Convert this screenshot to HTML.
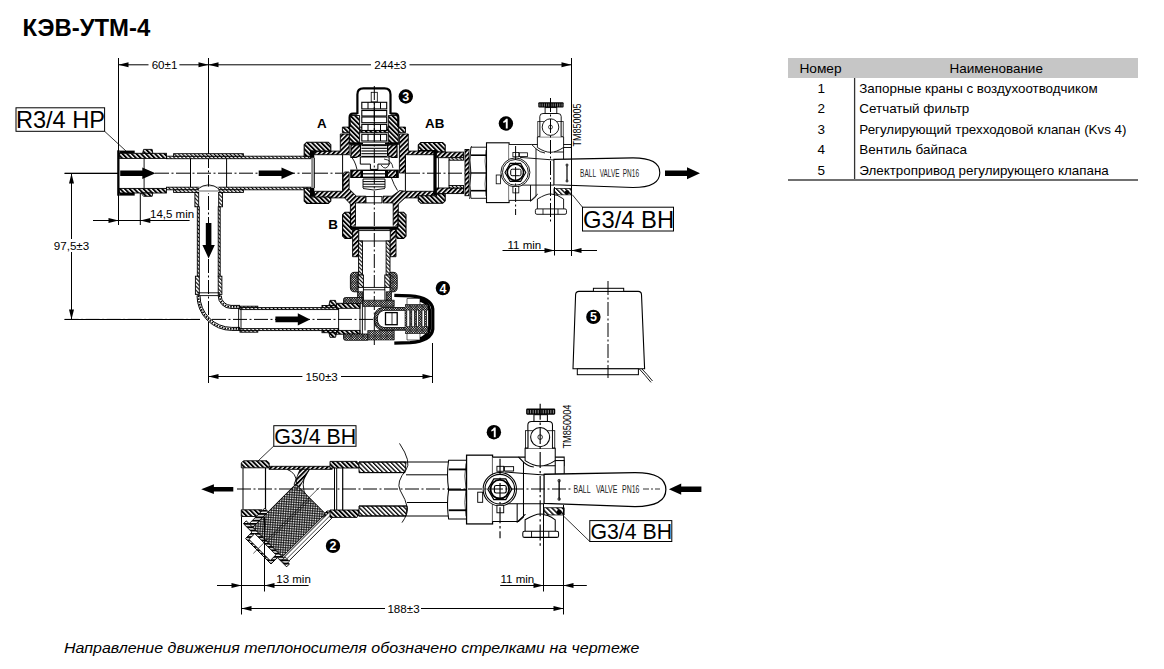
<!DOCTYPE html>
<html><head><meta charset="utf-8"><style>
html,body{margin:0;padding:0;background:#fff;width:1164px;height:669px;overflow:hidden}
svg{display:block}
</style></head><body>
<svg width="1164" height="669" viewBox="0 0 1164 669">
<defs>
<pattern id="h" patternUnits="userSpaceOnUse" width="3.3" height="3.3" patternTransform="rotate(-45)"><rect width="3.3" height="3.3" fill="#fff"/><rect x="0" y="0" width="1.9" height="3.3" fill="#000"/></pattern>
<pattern id="h2" patternUnits="userSpaceOnUse" width="3.3" height="3.3" patternTransform="rotate(45)"><rect width="3.3" height="3.3" fill="#fff"/><rect x="0" y="0" width="1.9" height="3.3" fill="#000"/></pattern>
<pattern id="hd" patternUnits="userSpaceOnUse" width="2.8" height="2.8" patternTransform="rotate(-45)"><rect width="2.8" height="2.8" fill="#fff"/><rect x="0" y="0" width="1.1" height="2.8" fill="#000"/></pattern>
<pattern id="dk" patternUnits="userSpaceOnUse" width="1.7" height="1.7" patternTransform="rotate(45)"><rect width="1.7" height="1.7" fill="#000"/><rect x="0" y="0" width="1.0" height="1.0" fill="#fff"/></pattern>
<pattern id="mesh" patternUnits="userSpaceOnUse" width="1.7" height="1.7" patternTransform="rotate(42)"><rect width="1.7" height="1.7" fill="#fff"/><rect width="0.65" height="1.7" fill="#000"/><rect width="1.7" height="0.65" fill="#000"/></pattern>
<pattern id="hl" patternUnits="userSpaceOnUse" width="3.2" height="3.2" patternTransform="rotate(-45)"><rect width="3.2" height="3.2" fill="#fff"/><rect x="0" y="0" width="1.3" height="3.2" fill="#000"/></pattern>
</defs>
<text x="22.5" y="36" font-family="Liberation Sans" font-size="24.3" text-anchor="start" font-weight="bold" font-style="normal" textLength="127.8" lengthAdjust="spacingAndGlyphs">КЭВ-УТМ-4</text>
<rect x="788" y="58" width="350" height="20" fill="#c6c6c6"/>
<text x="799.4" y="73.1" font-family="Liberation Sans" font-size="13.5" text-anchor="start" font-weight="normal" font-style="normal" textLength="42.2" lengthAdjust="spacingAndGlyphs">Номер</text>
<text x="949.5" y="73.1" font-family="Liberation Sans" font-size="13.5" text-anchor="start" font-weight="normal" font-style="normal" textLength="93.4" lengthAdjust="spacingAndGlyphs">Наименование</text>
<line x1="854.6" y1="78" x2="854.6" y2="180" stroke="#333" stroke-width="1.3" />
<line x1="788" y1="179.9" x2="1138" y2="179.9" stroke="#707070" stroke-width="2" />
<text x="821.2" y="92.9" font-family="Liberation Sans" font-size="13.5" text-anchor="middle" font-weight="normal" font-style="normal" >1</text>
<text x="859.3" y="92.9" font-family="Liberation Sans" font-size="13.5" text-anchor="start" font-weight="normal" font-style="normal" textLength="238.3" lengthAdjust="spacingAndGlyphs">Запорные краны с воздухоотводчиком</text>
<text x="821.2" y="113.35000000000001" font-family="Liberation Sans" font-size="13.5" text-anchor="middle" font-weight="normal" font-style="normal" >2</text>
<text x="859.3" y="113.35000000000001" font-family="Liberation Sans" font-size="13.5" text-anchor="start" font-weight="normal" font-style="normal" textLength="110.0" lengthAdjust="spacingAndGlyphs">Сетчатый фильтр</text>
<text x="821.2" y="133.8" font-family="Liberation Sans" font-size="13.5" text-anchor="middle" font-weight="normal" font-style="normal" >3</text>
<text x="859.3" y="133.8" font-family="Liberation Sans" font-size="13.5" text-anchor="start" font-weight="normal" font-style="normal" textLength="267.2" lengthAdjust="spacingAndGlyphs">Регулирующий трехходовой клапан (Kvs 4)</text>
<text x="821.2" y="154.25" font-family="Liberation Sans" font-size="13.5" text-anchor="middle" font-weight="normal" font-style="normal" >4</text>
<text x="859.3" y="154.25" font-family="Liberation Sans" font-size="13.5" text-anchor="start" font-weight="normal" font-style="normal" textLength="107.6" lengthAdjust="spacingAndGlyphs">Вентиль байпаса</text>
<text x="821.2" y="174.7" font-family="Liberation Sans" font-size="13.5" text-anchor="middle" font-weight="normal" font-style="normal" >5</text>
<text x="859.3" y="174.7" font-family="Liberation Sans" font-size="13.5" text-anchor="start" font-weight="normal" font-style="normal" textLength="249.5" lengthAdjust="spacingAndGlyphs">Электропривод регулирующего клапана</text>
<text x="64" y="653.4" font-family="Liberation Sans" font-size="15.5" text-anchor="start" font-weight="normal" font-style="italic" textLength="575.5" lengthAdjust="spacingAndGlyphs">Направление движения теплоносителя обозначено стрелками на чертеже</text>
<line x1="64.6" y1="173.2" x2="118" y2="173.2" stroke="#000" stroke-width="1" />
<line x1="155" y1="173.2" x2="311" y2="173.2" stroke="#000" stroke-width="1" stroke-dasharray="14 2.5 2 2.5"/>
<line x1="314" y1="173.2" x2="342" y2="173.2" stroke="#000" stroke-width="1" stroke-dasharray="14 2.5 2 2.5"/>
<line x1="406" y1="173.2" x2="470" y2="173.2" stroke="#000" stroke-width="1" stroke-dasharray="14 2.5 2 2.5"/>
<line x1="208.5" y1="154" x2="208.5" y2="331" stroke="#000" stroke-width="1" stroke-dasharray="14 2.5 2 2.5"/>
<rect x="117.20" y="150.30" width="2.30" height="45.40" fill="#000"/>
<rect x="119.40" y="150.60" width="15.30" height="2.80" fill="#000"/>
<rect x="119.40" y="192.80" width="15.30" height="2.80" fill="#000"/>
<rect x="119.40" y="153.30" width="47.00" height="5.10" fill="url(#h)" stroke="#000" stroke-width="0.9" />
<rect x="119.40" y="188.40" width="47.00" height="4.60" fill="url(#h)" stroke="#000" stroke-width="0.9" />
<polygon points="142.60,153.30 143.60,149.40 152.20,149.40 152.80,153.30" fill="url(#h)" stroke="#000" stroke-width="0.9" />
<polygon points="141.00,193.00 143.60,196.30 152.20,196.30 152.80,193.00" fill="url(#h)" stroke="#000" stroke-width="0.9" />
<line x1="144.1" y1="158.4" x2="144.1" y2="188.4" stroke="#000" stroke-width="0.9" />
<rect x="166.50" y="156.20" width="144.80" height="2.50" fill="url(#hd)" stroke="#000" stroke-width="0.9" />
<rect x="166.50" y="187.20" width="144.80" height="2.60" fill="url(#hd)" stroke="#000" stroke-width="0.9" />
<rect x="173.60" y="153.70" width="69.80" height="2.50" fill="url(#hd)" stroke="#000" stroke-width="0.9" />
<rect x="173.60" y="189.80" width="69.80" height="2.60" fill="url(#hd)" stroke="#000" stroke-width="0.9" />
<line x1="190.5" y1="158.7" x2="190.5" y2="187.2" stroke="#000" stroke-width="1" />
<line x1="226.6" y1="158.7" x2="226.6" y2="187.2" stroke="#000" stroke-width="1" />
<rect x="198.8" y="186.6" width="19.6" height="6.4" fill="#fff"/>
<path d="M197.4,189.2 Q208.6,180.5 219.4,189.2" fill="none" stroke="#000" stroke-width="0.9" />
<line x1="198.7" y1="191" x2="218.5" y2="191" stroke="#666" stroke-width="1" />
<rect x="194.90" y="192.40" width="3.80" height="14.40" fill="url(#hd)" stroke="#000" stroke-width="0.9" />
<rect x="218.70" y="192.40" width="3.80" height="14.40" fill="url(#hd)" stroke="#000" stroke-width="0.9" />
<rect x="197.30" y="206.80" width="2.00" height="69.40" fill="url(#hd)" stroke="#000" stroke-width="0.9" />
<rect x="218.20" y="206.80" width="2.00" height="69.40" fill="url(#hd)" stroke="#000" stroke-width="0.9" />
<rect x="195.40" y="276.20" width="3.90" height="18.20" fill="url(#hd)" stroke="#000" stroke-width="0.9" />
<rect x="218.20" y="276.20" width="3.70" height="18.20" fill="url(#hd)" stroke="#000" stroke-width="0.9" />
<line x1="197.3" y1="292.8" x2="220.3" y2="292.8" stroke="#000" stroke-width="0.9" />
<line x1="197.3" y1="295.6" x2="220.3" y2="295.6" stroke="#000" stroke-width="0.9" />
<path d="M198.5,295.6 A33.3,33.3 0 0 0 231.8,328.9 L240,328.9" fill="none" stroke="#000" stroke-width="1.6" stroke="#fff" stroke-dasharray="1.6 1.2"/>
<path d="M197,295.6 A34.8,34.8 0 0 0 231.8,330.4 L240,330.4" fill="none" stroke="#000" stroke-width="1" />
<path d="M200,295.6 A31.8,31.8 0 0 0 231.8,327.4 L240,327.4" fill="none" stroke="#000" stroke-width="1" />
<path d="M219.7,295.6 A11.3,11.3 0 0 0 231,306.9 L240,306.9" fill="none" stroke="#000" stroke-width="1.6" stroke="#fff" stroke-dasharray="1.6 1.2"/>
<path d="M218.2,295.6 A12.8,12.8 0 0 0 231,308.4 L240,308.4" fill="none" stroke="#000" stroke-width="1" />
<path d="M221.2,295.6 A9.8,9.8 0 0 0 231,305.4 L240,305.4" fill="none" stroke="#000" stroke-width="1" />
<rect x="240.00" y="306.20" width="17.80" height="1.60" fill="url(#hd)" stroke="#000" stroke-width="0.9" />
<rect x="240.00" y="330.50" width="17.80" height="1.70" fill="url(#hd)" stroke="#000" stroke-width="0.9" />
<rect x="240.00" y="307.60" width="98.60" height="2.00" fill="url(#hd)" stroke="#000" stroke-width="0.9" />
<rect x="240.00" y="328.60" width="98.60" height="2.00" fill="url(#hd)" stroke="#000" stroke-width="0.9" />
<line x1="238.6" y1="308" x2="238.6" y2="330" stroke="#000" stroke-width="0.9" />
<line x1="241" y1="308" x2="241" y2="330" stroke="#000" stroke-width="0.9" />
<line x1="64.6" y1="319.4" x2="200" y2="319.4" stroke="#000" stroke-width="1" stroke-dasharray="14 2.5 2 2.5"/>
<line x1="212" y1="319.4" x2="373" y2="319.4" stroke="#000" stroke-width="1" stroke-dasharray="14 2.5 2 2.5"/>
<polygon points="205.80,223.00 205.80,245.00 202.40,245.00 208.60,258.40 214.80,245.00 211.40,245.00 211.40,223.00" fill="#000"/>
<polygon points="120.20,170.50 142.30,170.50 142.30,167.40 155.50,173.20 142.30,179.00 142.30,175.90 120.20,175.90" fill="#000"/>
<polygon points="258.70,170.50 281.50,170.50 281.50,167.40 294.50,173.20 281.50,179.00 281.50,175.90 258.70,175.90" fill="#000"/>
<polygon points="275.40,316.60 297.80,316.60 297.80,313.30 310.10,319.40 297.80,325.50 297.80,322.20 275.40,322.20" fill="#000"/>
<polygon points="665.00,170.50 687.00,170.50 687.00,167.20 700.00,173.20 687.00,179.20 687.00,175.90 665.00,175.90" fill="#000"/>
<rect x="322.00" y="305.50" width="14.60" height="2.20" fill="url(#h)" stroke="#000" stroke-width="0.9" />
<rect x="322.00" y="330.50" width="14.60" height="2.20" fill="url(#h)" stroke="#000" stroke-width="0.9" />
<polygon points="328.90,305.50 330.00,300.40 335.50,300.40 336.60,305.50" fill="url(#h)" stroke="#000" stroke-width="0.9" />
<polygon points="328.90,332.70 330.00,337.30 335.50,337.30 336.60,332.70" fill="url(#h)" stroke="#000" stroke-width="0.9" />
<rect x="336.60" y="303.30" width="23.40" height="5.00" fill="url(#h)" stroke="#000" stroke-width="0.9" />
<rect x="336.60" y="330.40" width="23.40" height="3.80" fill="url(#h)" stroke="#000" stroke-width="0.9" />
<line x1="338.6" y1="308.3" x2="338.6" y2="330.4" stroke="#000" stroke-width="0.9" />
<line x1="360" y1="303" x2="360" y2="334" stroke="#000" stroke-width="0.9" />
<line x1="362.4" y1="303" x2="362.4" y2="334" stroke="#000" stroke-width="0.9" />
<polygon points="314.50,151.10 340.30,151.10 340.30,134.00 349.20,134.00 349.20,154.70 314.50,154.70" fill="url(#h2)" stroke="#000" stroke-width="0.9" />
<polygon points="434.00,151.10 408.30,151.10 408.30,134.00 399.40,134.00 399.40,173.00 405.40,173.00 405.40,154.70 434.00,154.70" fill="url(#h2)" stroke="#000" stroke-width="0.9" />
<polygon points="314.50,191.30 343.00,191.30 343.00,174.00 344.50,172.00 349.10,172.00 349.10,188.90 356.40,196.20 365.90,196.20 365.90,202.90 355.50,202.90 355.50,227.00 350.40,227.00 350.40,204.00 344.60,197.90 314.50,197.90" fill="url(#h2)" stroke="#000" stroke-width="0.9" />
<polygon points="434.00,191.30 405.40,191.30 405.40,191.30 399.60,190.60 392.00,196.20 383.00,196.20 383.00,202.90 393.20,202.90 393.20,227.00 398.30,227.00 398.30,204.00 405.00,197.90 434.00,197.90" fill="url(#h2)" stroke="#000" stroke-width="0.9" />
<line x1="342.6" y1="154.7" x2="342.6" y2="191.3" stroke="#000" stroke-width="1" />
<line x1="405.4" y1="154.7" x2="405.4" y2="191.3" stroke="#000" stroke-width="1" />
<path d="M349.5,154.7 Q355,160 357,169.5" fill="none" stroke="#000" stroke-width="0.9" />
<path d="M391.5,178 Q394,185 397.5,190.5" fill="none" stroke="#000" stroke-width="0.9" />
<polygon points="306.70,142.20 328.30,142.20 330.80,144.70 330.80,151.10 310.50,151.10 310.50,156.30 304.20,156.30 304.20,144.70" fill="url(#h)" stroke="#000" stroke-width="1.1" />
<polygon points="304.20,188.30 310.50,188.30 310.50,197.00 330.80,197.00 330.80,200.90 328.30,203.40 306.70,203.40 304.20,200.90" fill="url(#h)" stroke="#000" stroke-width="1.1" />
<rect x="310.00" y="150.60" width="4.30" height="7.30" fill="#000"/>
<rect x="310.00" y="187.80" width="4.30" height="9.00" fill="#000"/>
<rect x="311.2" y="157.8" width="2.4" height="30.2" fill="#888"/>
<line x1="314.4" y1="157.8" x2="314.4" y2="188" stroke="#000" stroke-width="0.9" />
<polygon points="420.80,142.50 442.70,142.50 445.20,145.00 445.20,152.10 436.60,152.10 436.60,150.50 418.30,150.50 418.30,145.00" fill="url(#h)" stroke="#000" stroke-width="1.1" />
<polygon points="418.30,195.70 436.60,195.70 436.60,193.60 445.20,193.60 445.20,200.80 442.70,203.30 420.80,203.30 418.30,200.80" fill="url(#h)" stroke="#000" stroke-width="1.1" />
<rect x="433.40" y="150.30" width="3.20" height="45.00" fill="#000"/>
<line x1="438.5" y1="157" x2="438.5" y2="188" stroke="#000" stroke-width="0.8" />
<rect x="436.60" y="152.10" width="26.90" height="5.60" fill="url(#h2)" stroke="#000" stroke-width="0.9" />
<rect x="436.60" y="188.00" width="26.90" height="5.60" fill="url(#h2)" stroke="#000" stroke-width="0.9" />
<rect x="449.00" y="157.70" width="14.50" height="2.50" fill="url(#hd)" stroke="#000" stroke-width="0.9" />
<rect x="449.00" y="185.50" width="14.50" height="2.50" fill="url(#hd)" stroke="#000" stroke-width="0.9" />
<line x1="449" y1="160.2" x2="449" y2="185.5" stroke="#000" stroke-width="1" />
<rect x="465.00" y="149.50" width="4.00" height="46.20" fill="url(#h2)" stroke="#000" stroke-width="0.9" />
<path d="M471.5,146 Q469,160 470.5,173 Q472,186 469.5,199" fill="none" stroke="#000" stroke-width="0.7" />
<polygon points="345.00,212.30 350.50,212.30 350.50,226.40 352.60,226.40 352.60,236.00 351.00,238.40 345.00,238.40 342.60,236.00 342.60,214.70" fill="url(#h)" stroke="#000" stroke-width="1.1" />
<polygon points="403.60,212.30 398.10,212.30 398.10,226.40 396.00,226.40 396.00,236.00 397.60,238.40 403.60,238.40 406.00,236.00 406.00,214.70" fill="url(#h)" stroke="#000" stroke-width="1.1" />
<rect x="350.50" y="226.40" width="47.60" height="3.10" fill="#000"/>
<line x1="352" y1="226" x2="397" y2="226" stroke="#fff" stroke-width="0.6" />
<rect x="366.00" y="196.60" width="15.90" height="6.30" fill="#fff" stroke="#000" stroke-width="0.9" />
<polygon points="352.60,229.50 358.80,229.50 358.80,256.70 352.60,256.70" fill="url(#h2)" stroke="#000" stroke-width="0.9" />
<polygon points="396.00,229.50 389.80,229.50 389.80,256.70 396.00,256.70" fill="url(#h2)" stroke="#000" stroke-width="0.9" />
<rect x="358.80" y="230.60" width="31.40" height="10.40" fill="#fff" stroke="#000" stroke-width="0.9" />
<rect x="358.60" y="241.00" width="3.90" height="34.00" fill="url(#hd)" stroke="#000" stroke-width="0.9" />
<rect x="386.10" y="241.00" width="3.90" height="34.00" fill="url(#hd)" stroke="#000" stroke-width="0.9" />
<polygon points="342.40,127.10 405.50,127.10 405.50,132.70 342.40,132.70" fill="url(#h)" stroke="#000" stroke-width="0.9" />
<polygon points="349.60,115.50 359.60,115.50 359.60,143.50 349.60,143.50" fill="url(#h)" stroke="#000" stroke-width="0.9" />
<polygon points="388.30,115.50 398.30,115.50 398.30,143.50 388.30,143.50" fill="url(#h)" stroke="#000" stroke-width="0.9" />
<path d="M357.4,114 L357.4,94.4 Q357.4,88.4 363.4,88.4 L384.5,88.4 Q390.5,88.4 390.5,94.4 L390.5,114" fill="none" stroke="#000" stroke-width="2.2" />
<path d="M349.6,127.1 L349.6,117.3 Q349.6,113.6 353,113.6 L357.4,113.6" fill="none" stroke="#000" stroke-width="2.2" />
<path d="M390.5,113.6 L395,113.6 Q398.3,113.6 398.3,117.3 L398.3,127.1" fill="none" stroke="#000" stroke-width="2.2" />
<rect x="371.20" y="92.30" width="6.10" height="9.60" fill="#fff" stroke="#000" stroke-width="0.8" />
<rect x="361.80" y="102.30" width="24.90" height="6.60" fill="#fff" stroke="#000" stroke-width="1.1" />
<line x1="368" y1="102.3" x2="368" y2="108.89999999999999" stroke="#000" stroke-width="1" />
<line x1="374.3" y1="102.3" x2="374.3" y2="108.89999999999999" stroke="#000" stroke-width="1" />
<line x1="380.5" y1="102.3" x2="380.5" y2="108.89999999999999" stroke="#000" stroke-width="1" />
<rect x="361.80" y="110.50" width="24.90" height="5.50" fill="#fff" stroke="#000" stroke-width="1.1" />
<rect x="361.80" y="117.00" width="24.90" height="5.70" fill="#fff" stroke="#000" stroke-width="1.1" />
<rect x="361.80" y="124.40" width="24.90" height="6.10" fill="#fff" stroke="#000" stroke-width="1.1" />
<line x1="368" y1="124.4" x2="368" y2="130.5" stroke="#000" stroke-width="1" />
<line x1="374.3" y1="124.4" x2="374.3" y2="130.5" stroke="#000" stroke-width="1" />
<line x1="380.5" y1="124.4" x2="380.5" y2="130.5" stroke="#000" stroke-width="1" />
<rect x="361.80" y="134.30" width="24.90" height="6.70" fill="#fff" stroke="#000" stroke-width="1.1" />
<line x1="368" y1="134.3" x2="368" y2="141.0" stroke="#000" stroke-width="1" />
<line x1="374.3" y1="134.3" x2="374.3" y2="141.0" stroke="#000" stroke-width="1" />
<line x1="380.5" y1="134.3" x2="380.5" y2="141.0" stroke="#000" stroke-width="1" />
<line x1="374.3" y1="108.9" x2="374.3" y2="124.4" stroke="#000" stroke-width="1" />
<rect x="349.50" y="142.30" width="49.30" height="2.60" fill="#000"/>
<rect x="363.00" y="142.80" width="22.00" height="1.30" fill="#fff" stroke="#000" stroke-width="0" />
<polygon points="351.00,145.00 360.50,145.00 360.50,155.50 356.00,157.40 351.00,157.40" fill="url(#h2)" stroke="#000" stroke-width="1.2" />
<polygon points="387.60,145.00 397.00,145.00 397.00,157.40 392.00,157.40 387.60,155.50" fill="url(#h2)" stroke="#000" stroke-width="1.2" />
<rect x="361.40" y="145.50" width="25.50" height="11.50" fill="#fff" stroke="#000" stroke-width="0" />
<line x1="361.4" y1="145.6" x2="386.9" y2="145.6" stroke="#000" stroke-width="1.1" />
<line x1="361.4" y1="148.3" x2="386.9" y2="148.3" stroke="#000" stroke-width="1.1" />
<line x1="361.4" y1="151" x2="386.9" y2="151" stroke="#000" stroke-width="1.1" />
<line x1="361.4" y1="153.7" x2="386.9" y2="153.7" stroke="#000" stroke-width="1.1" />
<line x1="361.4" y1="156.4" x2="386.9" y2="156.4" stroke="#000" stroke-width="1.1" />
<path d="M360.3,157 L389.1,157 L389.1,164.1 L377.9,164.1 L377.9,169.4 L370.4,169.4 L370.4,164.1 L360.3,164.1 Z" fill="#fff" stroke="#000" stroke-width="1" />
<path d="M381,165 Q386,172 390,163 M384,159 Q392,160 393,168" fill="none" stroke="#000" stroke-width="0.8" />
<rect x="350.20" y="169.60" width="48.60" height="8.40" fill="#000"/>
<polygon points="352.50,170.80 360.50,170.80 360.50,176.80 352.50,176.80" fill="url(#h2)" stroke="#000" stroke-width="0" />
<polygon points="388.00,170.80 396.00,170.80 396.00,176.80 388.00,176.80" fill="url(#h2)" stroke="#000" stroke-width="0" />
<rect x="363.00" y="171.00" width="22.00" height="2.20" fill="#fff" stroke="#000" stroke-width="0" />
<rect x="363.00" y="174.40" width="22.00" height="2.20" fill="#fff" stroke="#000" stroke-width="0" />
<rect x="363.00" y="179.00" width="22.00" height="10.00" fill="#fff" stroke="#000" stroke-width="0" />
<line x1="363" y1="179" x2="385" y2="179" stroke="#000" stroke-width="1" />
<line x1="363" y1="181.6" x2="385" y2="181.6" stroke="#000" stroke-width="1" />
<line x1="363" y1="184.2" x2="385" y2="184.2" stroke="#000" stroke-width="1" />
<line x1="363" y1="186.8" x2="385" y2="186.8" stroke="#000" stroke-width="1" />
<line x1="363" y1="179" x2="363" y2="188" stroke="#000" stroke-width="0.9" />
<line x1="385" y1="179" x2="385" y2="188" stroke="#000" stroke-width="0.9" />
<path d="M363,188.5 Q374,191.5 385,188.5" fill="none" stroke="#000" stroke-width="0.9" />
<line x1="374.3" y1="86" x2="374.3" y2="345" stroke="#000" stroke-width="1" stroke-dasharray="14 2.5 2 2.5"/>
<g>
<path d="M470.9,147.2 L487.1,147.2 L487.1,198.3 L470.9,198.3 Q469,185 470.9,173 Q469,160 470.9,147.2 Z" fill="#fff" stroke="#000" stroke-width="0.9" />
<line x1="471" y1="155.2" x2="487" y2="155.2" stroke="#000" stroke-width="1.6" />
<line x1="471" y1="173" x2="487" y2="173" stroke="#000" stroke-width="1.4" />
<line x1="471" y1="190.7" x2="487" y2="190.7" stroke="#000" stroke-width="1.6" />
<path d="M486,150 Q484,161 486,172 Q484,184 486,196" fill="none" stroke="#000" stroke-width="0.6" />
<rect x="486.50" y="142.80" width="22.60" height="59.80" fill="#fff" stroke="#000" stroke-width="1.1" />
<path d="M509.1,144.5 L531.7,144.5 L536,148.8 L536,196.5 L531.7,200.4 L509.1,200.4" fill="#fff" stroke="#000" stroke-width="0.9" />
<path d="M531.7,144.5 L571.4,144.5 L571.4,152 L554,152 M520,157.4 L554,160 M520,185.1 L554,185.1" fill="none" stroke="#000" stroke-width="0.9" />
<path d="M536,148.8 Q540,152.5 545,153" fill="none" stroke="#000" stroke-width="0.9" />
<path d="M531,200.4 L537.4,194.5 L537.4,193.9" fill="none" stroke="#000" stroke-width="0.9" />
<path d="M537.4,136.8 L563.6,136.8 L563.6,147.5 Q556,152.3 550.5,152.3 Q545,152.3 537.4,147.5 Z" fill="#fff" stroke="#000" stroke-width="0.9" />
<path d="M539.8,136.8 L539.8,116.5 Q539.8,113.5 543,113.5 L558,113.5 Q561.2,113.5 561.2,116.5 L561.2,136.8" fill="#fff" stroke="#000" stroke-width="0.9" />
<rect x="537.80" y="121.50" width="2.00" height="15.00" fill="#fff" stroke="#000" stroke-width="0.7" />
<rect x="561.20" y="121.50" width="2.00" height="15.00" fill="#fff" stroke="#000" stroke-width="0.7" />
<line x1="539.8" y1="121.5" x2="561.2" y2="121.5" stroke="#000" stroke-width="0.7" />
<circle cx="550.5" cy="127.1" r="8.3" fill="#fff" stroke="#000" stroke-width="0.9"/>
<circle cx="550.5" cy="127.1" r="2" fill="none" stroke="#000" stroke-width="0.7"/>
<rect x="545.10" y="107.60" width="11.70" height="5.90" fill="#fff" stroke="#000" stroke-width="0.9" />
<rect x="538.3" y="102.3" width="25.3" height="5.3" rx="1" fill="#000"/>
<line x1="540.0" y1="103.5" x2="540.0" y2="106.5" stroke="#fff" stroke-width="0.5"/>
<line x1="542.2" y1="103.5" x2="542.2" y2="106.5" stroke="#fff" stroke-width="0.5"/>
<line x1="544.4" y1="103.5" x2="544.4" y2="106.5" stroke="#fff" stroke-width="0.5"/>
<line x1="546.6" y1="103.5" x2="546.6" y2="106.5" stroke="#fff" stroke-width="0.5"/>
<line x1="548.8" y1="103.5" x2="548.8" y2="106.5" stroke="#fff" stroke-width="0.5"/>
<line x1="551.0" y1="103.5" x2="551.0" y2="106.5" stroke="#fff" stroke-width="0.5"/>
<line x1="553.2" y1="103.5" x2="553.2" y2="106.5" stroke="#fff" stroke-width="0.5"/>
<line x1="555.4" y1="103.5" x2="555.4" y2="106.5" stroke="#fff" stroke-width="0.5"/>
<line x1="557.6" y1="103.5" x2="557.6" y2="106.5" stroke="#fff" stroke-width="0.5"/>
<line x1="559.8" y1="103.5" x2="559.8" y2="106.5" stroke="#fff" stroke-width="0.5"/>
<line x1="562.0" y1="103.5" x2="562.0" y2="106.5" stroke="#fff" stroke-width="0.5"/>
<rect x="563.60" y="147.50" width="7.80" height="12.00" fill="#fff" stroke="#000" stroke-width="0.9" />
<path d="M537.4,208.9 L537.4,199 Q546,193.9 550.5,193.9 Q557,193.9 563.6,199 L563.6,208.9" fill="#fff" stroke="#000" stroke-width="0.9" />
<rect x="535.4" y="208.9" width="31.1" height="5.4" rx="1.5" fill="#fff" stroke="#000" stroke-width="0.9"/>
<line x1="543" y1="209" x2="543" y2="214.3" stroke="#000" stroke-width="0.8" />
<line x1="558" y1="209" x2="558" y2="214.3" stroke="#000" stroke-width="0.8" />
<polygon points="553.90,188.50 571.40,188.50 571.40,194.80 553.90,194.80" fill="url(#hl)" stroke="#000" stroke-width="0.7" />
<circle cx="567" cy="192.5" r="2.2" fill="#000"/>
<line x1="530.5" y1="185.1" x2="530.5" y2="201.6" stroke="#000" stroke-width="0.9" />
<circle cx="515.4" cy="172.4" r="14.5" fill="#fff" stroke="#000" stroke-width="0.9"/>
<circle cx="515.4" cy="172.4" r="12.9" fill="none" stroke="#000" stroke-width="0.9"/>
<polygon points="525.80,172.40 520.60,181.41 510.20,181.41 505.00,172.40 510.20,163.39 520.60,163.39" fill="#fff" stroke="#000" stroke-width="1.1" />
<circle cx="515.4" cy="172.4" r="8.1" fill="none" stroke="#000" stroke-width="1.6"/>
<rect x="510.7" y="169.2" width="10.3" height="6.5" rx="1.5" fill="#fff" stroke="#000" stroke-width="1"/>
<rect x="512.90" y="152.50" width="5.90" height="4.30" fill="#fff" stroke="#000" stroke-width="0.8" />
<rect x="512.90" y="186.40" width="5.90" height="6.50" fill="#fff" stroke="#000" stroke-width="0.8" />
<rect x="496.20" y="175.00" width="4.30" height="8.80" fill="#fff" stroke="#000" stroke-width="0.8" />
<rect x="519.40" y="152.80" width="8.00" height="3.80" fill="#fff" stroke="#000" stroke-width="0.8" />
<path d="M553.9,159.4 L633,157.9 Q659.8,157.9 659.8,172.7 Q659.8,187.5 633,187.5 L553.9,184.8 Z" fill="#fff" stroke="#000" stroke-width="1.1" />
<line x1="567" y1="164" x2="567" y2="182" stroke="#000" stroke-width="1.2"/>
<circle cx="567" cy="165" r="1.2" fill="none" stroke="#000" stroke-width="0.5"/><circle cx="567" cy="181" r="1.2" fill="none" stroke="#000" stroke-width="0.5"/>
<line x1="515.6" y1="146" x2="515.6" y2="215" stroke="#000" stroke-width="1" stroke-dasharray="14 2.5 2 2.5"/>
<line x1="550.5" y1="98" x2="550.5" y2="222" stroke="#000" stroke-width="1" stroke-dasharray="14 2.5 2 2.5"/>
</g>
<text x="580.1" y="176.7" font-family="Liberation Sans" font-size="10.4" text-anchor="start" font-weight="normal" font-style="normal" fill="#222" textLength="15.9" lengthAdjust="spacingAndGlyphs">BALL</text>
<text x="599.6999999999999" y="176.7" font-family="Liberation Sans" font-size="10.4" text-anchor="start" font-weight="normal" font-style="normal" fill="#222" textLength="19.8" lengthAdjust="spacingAndGlyphs">VALVE</text>
<text x="622.8" y="176.7" font-family="Liberation Sans" font-size="10.4" text-anchor="start" font-weight="normal" font-style="normal" fill="#222" textLength="16.2" lengthAdjust="spacingAndGlyphs">PN16</text>
<path d="M350.4,276.5 Q350.4,272.3 354.5,272.3 L358.2,272.3 L358.2,291.8 L354.5,291.8 Q350.4,291.8 350.4,287.5 Z" fill="url(#dk)" stroke="#000" stroke-width="0.9" />
<path d="M397.2,276.5 Q397.2,272.3 393.1,272.3 L390,272.3 L390,291.8 L393.1,291.8 Q397.2,291.8 397.2,287.5 Z" fill="url(#dk)" stroke="#000" stroke-width="0.9" />
<rect x="358.20" y="275.00" width="5.20" height="12.40" fill="url(#hd)" stroke="#000" stroke-width="0.9" />
<rect x="384.80" y="275.00" width="5.20" height="12.40" fill="url(#hd)" stroke="#000" stroke-width="0.9" />
<rect x="363.40" y="287.40" width="21.40" height="2.40" fill="#fff" stroke="#000" stroke-width="0.9" />
<path d="M357.6,291.8 L362.8,291.8 L362.8,301 L357.6,301 Z" fill="url(#dk)" stroke="#000" stroke-width="0.8" />
<path d="M386.2,291.8 L391.4,291.8 L391.4,301 L386.2,301 Z" fill="url(#dk)" stroke="#000" stroke-width="0.8" />
<line x1="363.4" y1="289.8" x2="363.4" y2="301" stroke="#000" stroke-width="0.9" />
<line x1="384.9" y1="289.8" x2="384.9" y2="301" stroke="#000" stroke-width="0.9" />
<path d="M345.5,297.5 L362.9,297.5 L362.9,303.3 L343.5,303.3 L343.5,299.5 Q343.5,297.5 345.5,297.5 Z" fill="url(#dk)" stroke="#000" stroke-width="0.8" />
<path d="M343.5,334 L367.7,334 L367.7,340.3 L345.5,340.3 Q343.5,340.3 343.5,338.3 Z" fill="url(#dk)" stroke="#000" stroke-width="0.8" />
<path d="M362.9,300.2 L394.3,300.2 L394.3,306.5 L362.9,306.5 Z" fill="url(#dk)" stroke="#000" stroke-width="0.6" />
<path d="M367.7,330.5 L394.3,330.5 L394.3,340 L367.7,340 Z" fill="url(#dk)" stroke="#000" stroke-width="0.6" />
<line x1="365" y1="306.5" x2="365" y2="330.5" stroke="#000" stroke-width="0.9" />
<path d="M405.2,307.6 L382,307.6 Q374.2,309 374.2,318.9 Q374.2,329 382,330.2 L405.2,330.2" fill="url(#dk)" stroke="#000" stroke-width="0.9" />
<path d="M405.2,310.3 L384,310.3 Q377.3,312 377.3,318.9 Q377.3,326 384,327.6 L405.2,327.6 Z" fill="#fff" stroke="#000" stroke-width="0.9" />
<rect x="385.50" y="312.60" width="11.70" height="12.10" fill="#fff" stroke="#000" stroke-width="1.3" />
<line x1="392" y1="312.6" x2="392" y2="324.7" stroke="#000" stroke-width="0.8" />
<path d="M418,299.5 Q428.5,301.5 429.3,310 L429.3,328.5 Q428.5,337.5 418,339.5" fill="none" stroke="#000" stroke-width="3.6" stroke="url(#dk)"/>
<path d="M394.3,295.4 L410.2,295.9 Q431.3,297.5 432.8,309 L432.8,329.3 Q431.3,341 410.2,342.7 L394.3,343.1" fill="none" stroke="#000" stroke-width="3.2" />
<path d="M405,304.5 L428,304.5 L428,333.5 L405,333.5" fill="url(#dk)" stroke="#000" stroke-width="0.6" />
<rect x="406.80" y="310.00" width="3.00" height="16.80" fill="#fff" stroke="#000" stroke-width="0.7" />
<rect x="411.80" y="310.00" width="2.50" height="16.80" fill="#fff" stroke="#000" stroke-width="0.7" />
<rect x="416.50" y="310.00" width="2.20" height="16.80" fill="#fff" stroke="#000" stroke-width="0.7" />
<rect x="422.00" y="310.00" width="2.50" height="16.80" fill="#fff" stroke="#000" stroke-width="0.7" />
<rect x="426.50" y="310.00" width="1.80" height="16.80" fill="#fff" stroke="#000" stroke-width="0.7" />
<path d="M407,298.5 L420,298.5 L420,304.5 L407,304.5 Z" fill="#fff" stroke="#000" stroke-width="0.6" />
<path d="M407,333.5 L420,333.5 L420,340 L407,340 Z" fill="#fff" stroke="#000" stroke-width="0.6" />
<path d="M573,368.8 L575.6,294.6 Q575.9,291.4 579,291.4 L638.2,291.4 Q641.3,291.4 641.5,294.6 L644.6,368.8 Z" fill="#fff" stroke="#000" stroke-width="1.1" />
<rect x="593.40" y="288.30" width="30.30" height="3.10" fill="#fff" stroke="#000" stroke-width="1" />
<rect x="577.30" y="368.80" width="61.10" height="5.90" fill="#fff" stroke="#000" stroke-width="1" />
<path d="M639.4,369 Q645,375 651,382.4 M641.8,368.8 Q647,374 652.5,381" fill="none" stroke="#000" stroke-width="0.9" />
<line x1="608" y1="281" x2="608" y2="378" stroke="#000" stroke-width="1" stroke-dasharray="14 2.5 2 2.5"/>
<polygon points="243.50,460.80 267.00,460.80 269.20,463.00 269.20,467.80 241.30,467.80 241.30,463.00" fill="url(#h)" stroke="#000" stroke-width="0.9" />
<rect x="269.20" y="466.30" width="62.80" height="3.00" fill="url(#h2)" stroke="#000" stroke-width="0.9" />
<line x1="243" y1="467.8" x2="243" y2="509.6" stroke="#000" stroke-width="1" />
<line x1="265.5" y1="467.8" x2="265.5" y2="509.6" stroke="#000" stroke-width="1.2" />
<polygon points="241.30,509.80 262.00,509.80 258.00,516.50 241.30,516.50" fill="url(#h)" stroke="#000" stroke-width="0.9" />
<polygon points="327.00,511.00 336.00,511.00 336.00,516.80 321.00,516.80" fill="url(#h)" stroke="#000" stroke-width="0.9" />
<polygon points="300.00,469.30 309.50,469.30 299.50,487.00 294.00,484.50" fill="url(#h2)" stroke="#000" stroke-width="0.8" />
<path d="M287,469.3 Q297,473 296.5,484" fill="none" stroke="#000" stroke-width="0.9" />
<path d="M309.5,469.3 Q301,478 304,491 Q308,503 320,510" fill="none" stroke="#000" stroke-width="0.9" />
<g transform="translate(288,523) rotate(45)">
<rect x="-22" y="-33" width="42" height="61" fill="url(#mesh)" stroke="#000" stroke-width="0.9"/>
<line x1="-1" y1="-33" x2="-1" y2="28" stroke="#000" stroke-width="0.6"/>
<rect x="21.5" y="-39" width="6" height="67" fill="#fff" stroke="#000" stroke-width="0.9"/>
<line x1="24.5" y1="-38" x2="24.5" y2="27" stroke="#000" stroke-width="0.7"/>
<rect x="-27" y="6" width="5" height="23" fill="url(#h2)" stroke="#000" stroke-width="0.8"/>
<polygon points="-31,28 30,28 30,32 17,32 17,41 -19,41 -19,32 -31,32" fill="url(#h2)" stroke="#000" stroke-width="0.9"/>
<rect x="-16" y="31" width="30" height="8.2" fill="#fff" stroke="#000" stroke-width="0.9"/>
<rect x="22" y="26" width="6" height="5" fill="url(#h2)" stroke="#000" stroke-width="0.6"/>
<line x1="-3" y1="-47" x2="-3" y2="46" stroke="#000" stroke-width="0.6"/>
</g>
<polygon points="330.00,461.40 357.00,461.40 359.00,463.50 359.00,468.00 330.00,468.00" fill="url(#h)" stroke="#000" stroke-width="0.9" />
<polygon points="330.00,510.00 359.00,510.00 359.00,515.00 357.00,517.40 330.00,517.40" fill="url(#h)" stroke="#000" stroke-width="0.9" />
<line x1="334.5" y1="468" x2="334.5" y2="510" stroke="#000" stroke-width="1" />
<line x1="336.7" y1="468" x2="336.7" y2="510" stroke="#000" stroke-width="1" />
<line x1="342.7" y1="468" x2="342.7" y2="510" stroke="#000" stroke-width="1.2" />
<path d="M359,462 L406,462 Q410,470 400,480 Q394,488 402,496 Q408,503 405,506 L405,516 L359,516 Z" fill="#fff" stroke="#000" stroke-width="0" />
<polygon points="359.00,462.00 406.00,462.00 405.00,472.60 359.00,472.60" fill="url(#hl)" stroke="#000" stroke-width="0.9" />
<polygon points="359.00,506.00 407.00,506.00 406.00,516.00 359.00,516.00" fill="url(#hl)" stroke="#000" stroke-width="0.9" />
<line x1="359" y1="462" x2="448.8" y2="462" stroke="#000" stroke-width="1" />
<line x1="359" y1="516" x2="448.8" y2="516" stroke="#000" stroke-width="1" />
<line x1="359" y1="472.6" x2="405" y2="472.6" stroke="#000" stroke-width="0.9" />
<line x1="359" y1="506" x2="407" y2="506" stroke="#000" stroke-width="0.9" />
<line x1="406" y1="474.8" x2="448.8" y2="474.8" stroke="#000" stroke-width="1" />
<line x1="407" y1="502.5" x2="448.8" y2="502.5" stroke="#000" stroke-width="1" />
<path d="M399.5,443.4 Q412,462 406,470 Q396,482 400,490 Q406,500 407.5,508 Q408,514 402,522.6" fill="none" stroke="#000" stroke-width="0.9" />
<g transform="translate(499.8,489.2) scale(1.15) translate(-515.4,-172.4)">
<path d="M470.9,147.2 L487.1,147.2 L487.1,198.3 L470.9,198.3 Q469,185 470.9,173 Q469,160 470.9,147.2 Z" fill="#fff" stroke="#000" stroke-width="0.9" />
<line x1="471" y1="155.2" x2="487" y2="155.2" stroke="#000" stroke-width="1.6" />
<line x1="471" y1="173" x2="487" y2="173" stroke="#000" stroke-width="1.4" />
<line x1="471" y1="190.7" x2="487" y2="190.7" stroke="#000" stroke-width="1.6" />
<path d="M486,150 Q484,161 486,172 Q484,184 486,196" fill="none" stroke="#000" stroke-width="0.6" />
<rect x="486.50" y="142.80" width="22.60" height="59.80" fill="#fff" stroke="#000" stroke-width="1.1" />
<path d="M509.1,144.5 L531.7,144.5 L536,148.8 L536,196.5 L531.7,200.4 L509.1,200.4" fill="#fff" stroke="#000" stroke-width="0.9" />
<path d="M531.7,144.5 L571.4,144.5 L571.4,152 L554,152 M520,157.4 L554,160 M520,185.1 L554,185.1" fill="none" stroke="#000" stroke-width="0.9" />
<path d="M536,148.8 Q540,152.5 545,153" fill="none" stroke="#000" stroke-width="0.9" />
<path d="M531,200.4 L537.4,194.5 L537.4,193.9" fill="none" stroke="#000" stroke-width="0.9" />
<path d="M537.4,136.8 L563.6,136.8 L563.6,147.5 Q556,152.3 550.5,152.3 Q545,152.3 537.4,147.5 Z" fill="#fff" stroke="#000" stroke-width="0.9" />
<path d="M539.8,136.8 L539.8,116.5 Q539.8,113.5 543,113.5 L558,113.5 Q561.2,113.5 561.2,116.5 L561.2,136.8" fill="#fff" stroke="#000" stroke-width="0.9" />
<rect x="537.80" y="121.50" width="2.00" height="15.00" fill="#fff" stroke="#000" stroke-width="0.7" />
<rect x="561.20" y="121.50" width="2.00" height="15.00" fill="#fff" stroke="#000" stroke-width="0.7" />
<line x1="539.8" y1="121.5" x2="561.2" y2="121.5" stroke="#000" stroke-width="0.7" />
<circle cx="550.5" cy="127.1" r="8.3" fill="#fff" stroke="#000" stroke-width="0.9"/>
<circle cx="550.5" cy="127.1" r="2" fill="none" stroke="#000" stroke-width="0.7"/>
<rect x="545.10" y="107.60" width="11.70" height="5.90" fill="#fff" stroke="#000" stroke-width="0.9" />
<rect x="538.3" y="102.3" width="25.3" height="5.3" rx="1" fill="#000"/>
<line x1="540.0" y1="103.5" x2="540.0" y2="106.5" stroke="#fff" stroke-width="0.5"/>
<line x1="542.2" y1="103.5" x2="542.2" y2="106.5" stroke="#fff" stroke-width="0.5"/>
<line x1="544.4" y1="103.5" x2="544.4" y2="106.5" stroke="#fff" stroke-width="0.5"/>
<line x1="546.6" y1="103.5" x2="546.6" y2="106.5" stroke="#fff" stroke-width="0.5"/>
<line x1="548.8" y1="103.5" x2="548.8" y2="106.5" stroke="#fff" stroke-width="0.5"/>
<line x1="551.0" y1="103.5" x2="551.0" y2="106.5" stroke="#fff" stroke-width="0.5"/>
<line x1="553.2" y1="103.5" x2="553.2" y2="106.5" stroke="#fff" stroke-width="0.5"/>
<line x1="555.4" y1="103.5" x2="555.4" y2="106.5" stroke="#fff" stroke-width="0.5"/>
<line x1="557.6" y1="103.5" x2="557.6" y2="106.5" stroke="#fff" stroke-width="0.5"/>
<line x1="559.8" y1="103.5" x2="559.8" y2="106.5" stroke="#fff" stroke-width="0.5"/>
<line x1="562.0" y1="103.5" x2="562.0" y2="106.5" stroke="#fff" stroke-width="0.5"/>
<rect x="563.60" y="147.50" width="7.80" height="12.00" fill="#fff" stroke="#000" stroke-width="0.9" />
<path d="M537.4,208.9 L537.4,199 Q546,193.9 550.5,193.9 Q557,193.9 563.6,199 L563.6,208.9" fill="#fff" stroke="#000" stroke-width="0.9" />
<rect x="535.4" y="208.9" width="31.1" height="5.4" rx="1.5" fill="#fff" stroke="#000" stroke-width="0.9"/>
<line x1="543" y1="209" x2="543" y2="214.3" stroke="#000" stroke-width="0.8" />
<line x1="558" y1="209" x2="558" y2="214.3" stroke="#000" stroke-width="0.8" />
<polygon points="553.90,188.50 571.40,188.50 571.40,194.80 553.90,194.80" fill="url(#hl)" stroke="#000" stroke-width="0.7" />
<circle cx="567" cy="192.5" r="2.2" fill="#000"/>
<line x1="530.5" y1="185.1" x2="530.5" y2="201.6" stroke="#000" stroke-width="0.9" />
<circle cx="515.4" cy="172.4" r="14.5" fill="#fff" stroke="#000" stroke-width="0.9"/>
<circle cx="515.4" cy="172.4" r="12.9" fill="none" stroke="#000" stroke-width="0.9"/>
<polygon points="525.80,172.40 520.60,181.41 510.20,181.41 505.00,172.40 510.20,163.39 520.60,163.39" fill="#fff" stroke="#000" stroke-width="1.1" />
<circle cx="515.4" cy="172.4" r="8.1" fill="none" stroke="#000" stroke-width="1.6"/>
<rect x="510.7" y="169.2" width="10.3" height="6.5" rx="1.5" fill="#fff" stroke="#000" stroke-width="1"/>
<rect x="512.90" y="152.50" width="5.90" height="4.30" fill="#fff" stroke="#000" stroke-width="0.8" />
<rect x="512.90" y="186.40" width="5.90" height="6.50" fill="#fff" stroke="#000" stroke-width="0.8" />
<rect x="496.20" y="175.00" width="4.30" height="8.80" fill="#fff" stroke="#000" stroke-width="0.8" />
<rect x="519.40" y="152.80" width="8.00" height="3.80" fill="#fff" stroke="#000" stroke-width="0.8" />
<path d="M553.9,159.4 L633,157.9 Q659.8,157.9 659.8,172.7 Q659.8,187.5 633,187.5 L553.9,184.8 Z" fill="#fff" stroke="#000" stroke-width="1.1" />
<line x1="567" y1="164" x2="567" y2="182" stroke="#000" stroke-width="1.2"/>
<circle cx="567" cy="165" r="1.2" fill="none" stroke="#000" stroke-width="0.5"/><circle cx="567" cy="181" r="1.2" fill="none" stroke="#000" stroke-width="0.5"/>
<line x1="515.6" y1="146" x2="515.6" y2="215" stroke="#000" stroke-width="1" stroke-dasharray="14 2.5 2 2.5"/>
<line x1="550.5" y1="98" x2="550.5" y2="222" stroke="#000" stroke-width="1" stroke-dasharray="14 2.5 2 2.5"/>
</g>
<rect x="560" y="485" width="84" height="9" fill="#fff"/>
<text x="573.5" y="492.9" font-family="Liberation Sans" font-size="10.4" text-anchor="start" font-weight="normal" font-style="normal" fill="#222" textLength="17.1" lengthAdjust="spacingAndGlyphs">BALL</text>
<text x="595.9" y="492.9" font-family="Liberation Sans" font-size="10.4" text-anchor="start" font-weight="normal" font-style="normal" fill="#222" textLength="21.5" lengthAdjust="spacingAndGlyphs">VALVE</text>
<text x="622.0" y="492.9" font-family="Liberation Sans" font-size="10.4" text-anchor="start" font-weight="normal" font-style="normal" fill="#222" textLength="17.4" lengthAdjust="spacingAndGlyphs">PN16</text>
<line x1="237" y1="489" x2="572" y2="489" stroke="#000" stroke-width="1" stroke-dasharray="14 2.5 2 2.5"/>
<line x1="643" y1="489" x2="660" y2="489" stroke="#000" stroke-width="0.8" stroke-dasharray="6 2 2 2"/>
<polygon points="701.40,486.50 681.20,486.50 681.20,483.60 668.90,489.20 681.20,494.80 681.20,491.90 701.40,491.90" fill="#000"/>
<polygon points="233.30,487.00 213.90,487.00 213.90,484.30 201.20,489.20 213.90,494.10 213.90,491.40 233.30,491.40" fill="#000"/>
<line x1="118.5" y1="58" x2="118.5" y2="225" stroke="#000" stroke-width="1" />
<line x1="208.5" y1="58" x2="208.5" y2="154" stroke="#000" stroke-width="1" />
<line x1="208.5" y1="331" x2="208.5" y2="383" stroke="#000" stroke-width="1" />
<line x1="571.5" y1="58" x2="571.5" y2="256" stroke="#000" stroke-width="1" />
<line x1="118.5" y1="64.8" x2="148.5" y2="64.8" stroke="#000" stroke-width="1" />
<line x1="179.4" y1="64.8" x2="208.5" y2="64.8" stroke="#000" stroke-width="1" />
<polygon points="118.5,64.8 128.50,62.30 128.50,67.30" fill="#000"/>
<polygon points="208.5,64.8 198.50,67.30 198.50,62.30" fill="#000"/>
<text x="164.5" y="69" font-family="Liberation Sans" font-size="11.6" text-anchor="middle" font-weight="normal" font-style="normal" >60±1</text>
<line x1="208.5" y1="64.8" x2="371" y2="64.8" stroke="#000" stroke-width="1" />
<line x1="409.5" y1="64.8" x2="571.5" y2="64.8" stroke="#000" stroke-width="1" />
<polygon points="208.5,64.8 218.50,62.30 218.50,67.30" fill="#000"/>
<polygon points="571.5,64.8 561.50,67.30 561.50,62.30" fill="#000"/>
<text x="390.4" y="69" font-family="Liberation Sans" font-size="11.6" text-anchor="middle" font-weight="normal" font-style="normal" >244±3</text>
<line x1="140.3" y1="193" x2="140.3" y2="225" stroke="#000" stroke-width="1" />
<line x1="93" y1="220.5" x2="189.6" y2="220.5" stroke="#000" stroke-width="1" />
<polygon points="118.5,220.5 108.50,223.00 108.50,218.00" fill="#000"/>
<polygon points="140.3,220.5 150.30,218.00 150.30,223.00" fill="#000"/>
<text x="150" y="218" font-family="Liberation Sans" font-size="11.5" text-anchor="start" font-weight="normal" font-style="normal" >14,5 min</text>
<line x1="64.6" y1="173.5" x2="118" y2="173.5" stroke="#000" stroke-width="1" />
<line x1="64.6" y1="319.5" x2="200" y2="319.5" stroke="#000" stroke-width="1" />
<line x1="71.5" y1="173.5" x2="71.5" y2="239" stroke="#000" stroke-width="1" />
<line x1="71.5" y1="252" x2="71.5" y2="319.5" stroke="#000" stroke-width="1" />
<polygon points="71.5,173.5 74.00,183.50 69.00,183.50" fill="#000"/>
<polygon points="71.5,319.5 69.00,309.50 74.00,309.50" fill="#000"/>
<text x="71.5" y="250" font-family="Liberation Sans" font-size="11.6" text-anchor="middle" font-weight="normal" font-style="normal" >97,5±3</text>
<line x1="432.5" y1="343" x2="432.5" y2="383" stroke="#000" stroke-width="1" />
<line x1="208.5" y1="376.5" x2="302.4" y2="376.5" stroke="#000" stroke-width="1" />
<line x1="341" y1="376.5" x2="432.5" y2="376.5" stroke="#000" stroke-width="1" />
<polygon points="208.5,376.5 218.50,374.00 218.50,379.00" fill="#000"/>
<polygon points="432.5,376.5 422.50,379.00 422.50,374.00" fill="#000"/>
<text x="321.7" y="381.3" font-family="Liberation Sans" font-size="11.6" text-anchor="middle" font-weight="normal" font-style="normal" >150±3</text>
<line x1="554.5" y1="187" x2="554.5" y2="255.5" stroke="#000" stroke-width="1" />
<line x1="502.5" y1="250.5" x2="597" y2="250.5" stroke="#000" stroke-width="1" />
<polygon points="554.5,250.5 544.50,253.00 544.50,248.00" fill="#000"/>
<polygon points="571.5,250.5 581.50,248.00 581.50,253.00" fill="#000"/>
<text x="507.5" y="248.5" font-family="Liberation Sans" font-size="11.5" text-anchor="start" font-weight="normal" font-style="normal" >11 min</text>
<line x1="241.5" y1="517" x2="241.5" y2="614.5" stroke="#000" stroke-width="1" />
<line x1="264.5" y1="517" x2="264.5" y2="591.5" stroke="#000" stroke-width="1" />
<line x1="543.5" y1="504" x2="543.5" y2="591.5" stroke="#000" stroke-width="1" />
<line x1="563.5" y1="505" x2="563.5" y2="614.5" stroke="#000" stroke-width="1" />
<line x1="217" y1="585.5" x2="308.6" y2="585.5" stroke="#000" stroke-width="1" />
<polygon points="241.5,585.5 231.50,588.00 231.50,583.00" fill="#000"/>
<polygon points="264.5,585.5 274.50,583.00 274.50,588.00" fill="#000"/>
<text x="276.3" y="583.2" font-family="Liberation Sans" font-size="11.5" text-anchor="start" font-weight="normal" font-style="normal" >13 min</text>
<line x1="241.5" y1="608.5" x2="385" y2="608.5" stroke="#000" stroke-width="1" />
<line x1="421" y1="608.5" x2="563.5" y2="608.5" stroke="#000" stroke-width="1" />
<polygon points="241.5,608.5 251.50,606.00 251.50,611.00" fill="#000"/>
<polygon points="563.5,608.5 553.50,611.00 553.50,606.00" fill="#000"/>
<text x="403.5" y="612.6" font-family="Liberation Sans" font-size="11.6" text-anchor="middle" font-weight="normal" font-style="normal" >188±3</text>
<line x1="500.2" y1="585.5" x2="586.8" y2="585.5" stroke="#000" stroke-width="1" />
<polygon points="543.5,585.5 533.50,588.00 533.50,583.00" fill="#000"/>
<polygon points="563.5,585.5 573.50,583.00 573.50,588.00" fill="#000"/>
<text x="500.5" y="583.2" font-family="Liberation Sans" font-size="11.5" text-anchor="start" font-weight="normal" font-style="normal" >11 min</text>
<rect x="16" y="107.8" width="88.6" height="23.5" fill="#fff" stroke="#000" stroke-width="1"/>
<text x="15.9" y="128.1" font-family="Liberation Sans" font-size="23.6" text-anchor="start" font-weight="normal" font-style="normal" >R3/4 HP</text>
<line x1="104.6" y1="131.3" x2="126" y2="151" stroke="#000" stroke-width="0.8" />
<rect x="582.5" y="207.2" width="91" height="23.8" fill="#fff" stroke="#000" stroke-width="1"/>
<text x="582.9" y="228" font-family="Liberation Sans" font-size="23.8" text-anchor="start" font-weight="normal" font-style="normal" >G3/4 BH</text>
<line x1="582.5" y1="207.2" x2="572.3" y2="194.7" stroke="#000" stroke-width="0.8" />
<rect x="273.8" y="425.7" width="82.2" height="20.6" fill="#fff" stroke="#000" stroke-width="1"/>
<text x="274.2" y="444" font-family="Liberation Sans" font-size="21.4" text-anchor="start" font-weight="normal" font-style="normal" >G3/4 BH</text>
<line x1="273.8" y1="446" x2="258" y2="461" stroke="#000" stroke-width="0.8" />
<rect x="589.8" y="520.6" width="82" height="20.9" fill="#fff" stroke="#000" stroke-width="1"/>
<text x="590.4" y="538.7" font-family="Liberation Sans" font-size="21.3" text-anchor="start" font-weight="normal" font-style="normal" >G3/4 BH</text>
<line x1="589.8" y1="541.5" x2="563.5" y2="516" stroke="#000" stroke-width="0.8" />
<text x="317" y="127.7" font-family="Liberation Sans" font-size="13.4" text-anchor="start" font-weight="bold" font-style="normal" >A</text>
<text x="425" y="127.9" font-family="Liberation Sans" font-size="13.4" text-anchor="start" font-weight="bold" font-style="normal" >AB</text>
<text x="328.3" y="228.5" font-family="Liberation Sans" font-size="13.4" text-anchor="start" font-weight="bold" font-style="normal" >B</text>
<circle cx="405.8" cy="96.5" r="7.2" fill="#000"/>
<text x="405.8" y="100.9" font-family="Liberation Sans" font-size="12.5" text-anchor="middle" font-weight="bold" font-style="normal" fill="#fff">3</text>
<circle cx="505.9" cy="123.5" r="7.2" fill="#000"/>
<path d="M506.00,118.80 L507.70,118.80 L507.70,128.60 L505.80,128.60 L505.80,121.90 Q504.80,122.60 503.30,122.90 L503.30,121.20 Q505.10,120.60 506.00,118.80 Z" fill="#fff"/>
<circle cx="442.9" cy="288.1" r="7.2" fill="#000"/>
<text x="442.9" y="292.5" font-family="Liberation Sans" font-size="12.5" text-anchor="middle" font-weight="bold" font-style="normal" fill="#fff">4</text>
<circle cx="593.4" cy="316.9" r="7.2" fill="#000"/>
<text x="593.4" y="321.29999999999995" font-family="Liberation Sans" font-size="12.5" text-anchor="middle" font-weight="bold" font-style="normal" fill="#fff">5</text>
<circle cx="493.9" cy="432.2" r="7.2" fill="#000"/>
<path d="M494.00,427.50 L495.70,427.50 L495.70,437.30 L493.80,437.30 L493.80,430.60 Q492.80,431.30 491.30,431.60 L491.30,429.90 Q493.10,429.30 494.00,427.50 Z" fill="#fff"/>
<circle cx="333" cy="545.9" r="7.2" fill="#000"/>
<text x="333" y="550.3" font-family="Liberation Sans" font-size="12.5" text-anchor="middle" font-weight="bold" font-style="normal" fill="#fff">2</text>
<text x="0" y="0" font-family="Liberation Sans" font-size="10" text-anchor="start" font-weight="normal" font-style="normal" transform="translate(581.3,146.5) rotate(-90)" textLength="43" lengthAdjust="spacingAndGlyphs">TM850005</text>
<text x="0" y="0" font-family="Liberation Sans" font-size="10" text-anchor="start" font-weight="normal" font-style="normal" transform="translate(570.8,448.6) rotate(-90)" textLength="44" lengthAdjust="spacingAndGlyphs">TM850004</text>
</svg></body></html>
